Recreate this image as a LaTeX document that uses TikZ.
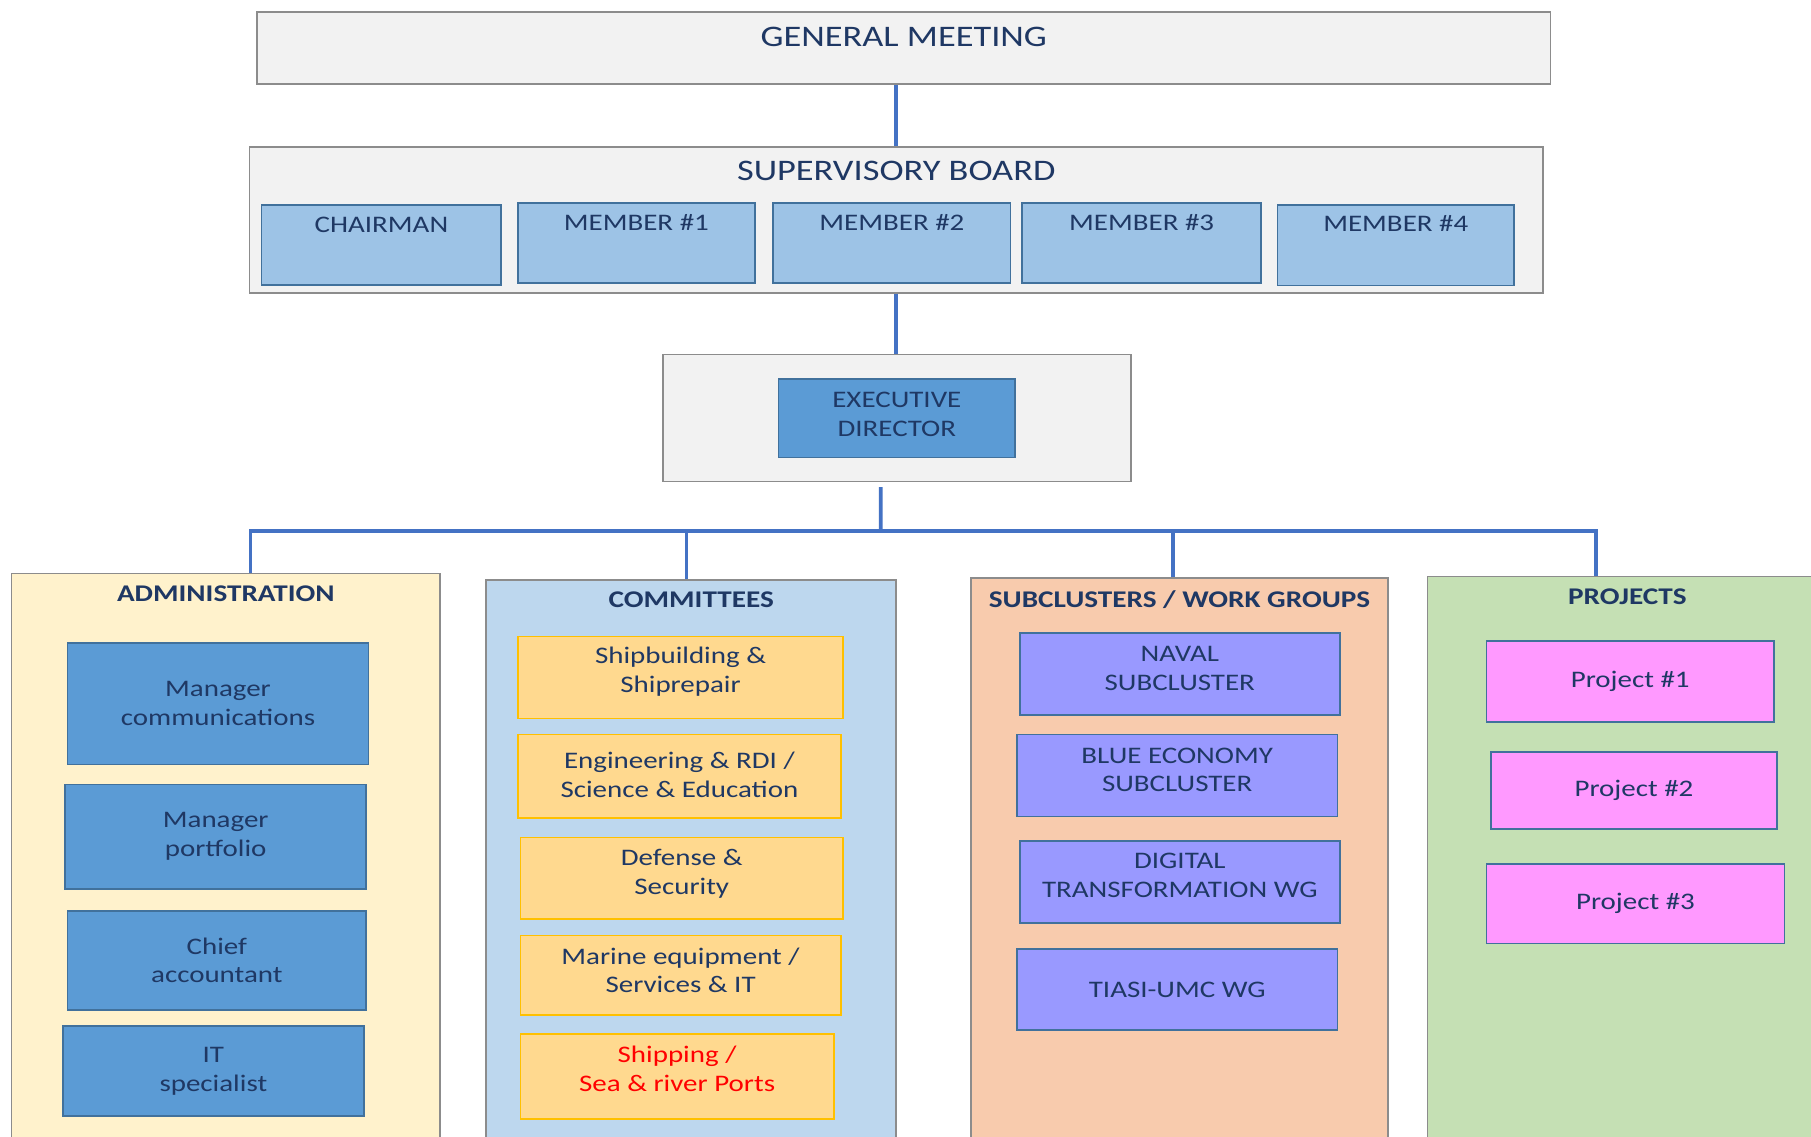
\documentclass[tikz,border=0pt]{standalone}
\usepackage{fontspec}
\setmainfont{Carlito}[FakeStretch=1.22]
\usetikzlibrary{positioning}
\definecolor{navy}{HTML}{1F3864}
\definecolor{linkblue}{HTML}{4472C4}
\definecolor{paper}{HTML}{F2F2F2}
\definecolor{frame}{HTML}{8C8C8C}
\definecolor{boardblue}{HTML}{9DC3E6}
\definecolor{deepblue}{HTML}{5B9BD5}
\definecolor{edgeblue}{HTML}{41719C}
\definecolor{admcol}{HTML}{FFF2CC}
\definecolor{comcol}{HTML}{BDD7EE}
\definecolor{subcol}{HTML}{F8CBAD}
\definecolor{prjcol}{HTML}{C5E0B4}
\definecolor{comfill}{HTML}{FFD98F}
\definecolor{gold}{HTML}{FFC000}
\definecolor{lilac}{HTML}{9999FF}
\definecolor{prjpink}{HTML}{FF99FF}
\definecolor{alert}{HTML}{FF0000}
\tikzset{
    panel/.style={draw=frame, line width=0.8pt, fill=paper, rectangle, inner sep=0pt},
    card/.style={draw=edgeblue, line width=0.8pt, rectangle, align=center, text=navy,
        inner sep=2pt, font=\fontsize{11.7}{14.2}\selectfont},
    lift/.style={text depth=#1},
    toptitle/.style={anchor=north, inner sep=0pt, text=navy},
    bigtitle/.style={toptitle, font=\fontsize{14.7}{17}\selectfont},
    seattitle/.style={toptitle, font=\fontsize{11.7}{14}\selectfont},
    coltitle/.style={toptitle, yshift=-.22cm, font=\fontsize{11.8}{14}\selectfont\bfseries},
    link/.style={draw=linkblue, line width=1.8pt},
}
\begin{document}
\begin{tikzpicture}[x=0.02cm, y=-0.02cm]
        \useasboundingbox (0,0) rectangle (1568,984);
        \fill[white] (0,0) rectangle (1568,984);
        \clip (0,0) rectangle (1568,984);
        % top of the chart
        \node[panel, minimum width=22.4cm, minimum height=1.25cm,
            label={[bigtitle, yshift=-.27cm]north:GENERAL MEETING}] (gm) at (782.5,41.75) {};
        \node[panel, minimum width=22.4cm, minimum height=2.53cm,
            label={[bigtitle, yshift=-.25cm]north:SUPERVISORY BOARD}] (sb) at (776,190.25) {};
        \node[card, fill=boardblue, minimum width=4.15cm, minimum height=1.38cm,
            label={[seattitle, yshift=-.22cm]north:CHAIRMAN}] (chair) at (330.25,212.1) {};
        \node[card, fill=boardblue, minimum width=4.1cm, minimum height=1.38cm,
            label={[seattitle, yshift=-.2cm]north:MEMBER \#1}] (mem1) at (551,210.5) {};
        \node[card, fill=boardblue, minimum width=4.11cm, minimum height=1.38cm,
            label={[seattitle, yshift=-.2cm]north:MEMBER \#2}] (mem2) at (772.25,210.5) {};
        \node[card, fill=boardblue, minimum width=4.14cm, minimum height=1.38cm,
            label={[seattitle, yshift=-.2cm]north:MEMBER \#3}] (mem3) at (988.5,210.5) {};
        \node[card, fill=boardblue, minimum width=4.1cm, minimum height=1.39cm,
            label={[seattitle, yshift=-.18cm]north:MEMBER \#4}] (mem4) at (1208.5,212.3) {};
        \node[panel, minimum width=8.1cm, minimum height=2.2cm] (exec) at (776.5,362) {};
        \node[card, fill=deepblue, lift=.12cm, minimum width=4.1cm, minimum height=1.36cm] (director) at (776.5,362) {EXECUTIVE\\DIRECTOR};
        % the four columns
        \node[panel, fill=admcol, minimum width=7.42cm, minimum height=10.07cm,
            label={[coltitle]north:ADMINISTRATION}] (adm) at (195.5,748.35) {};
        \node[panel, fill=comcol, minimum width=7.1cm, minimum height=9.96cm,
            label={[coltitle]north:COMMITTEES}] (com) at (598.5,751) {};
        \node[panel, fill=subcol, minimum width=7.23cm, minimum height=9.99cm,
            label={[coltitle]north:SUBCLUSTERS / WORK GROUPS}] (sub) at (1021.25,750.25) {};
        \node[panel, fill=prjcol, minimum width=6.92cm, minimum height=10.02cm,
            label={[coltitle]north:PROJECTS}] (prj) at (1409,749.5) {};
        % administration
        \node[card, fill=deepblue, minimum width=5.21cm, minimum height=2.1cm] (mgrcom) at (188.75,609.4) {Manager\\communications};
        \node[card, fill=deepblue, minimum width=5.21cm, minimum height=1.81cm] (mgrport) at (186.75,724.35) {Manager\\portfolio};
        \node[card, fill=deepblue, minimum width=5.17cm, minimum height=1.72cm] (chief) at (187.75,831.5) {Chief\\accountant};
        \node[card, fill=deepblue, minimum width=5.21cm, minimum height=1.55cm] (itspec) at (184.75,927.3) {IT\\specialist};
        % committees
        \node[card, draw=gold, fill=comfill, lift=.26cm, minimum width=5.63cm, minimum height=1.42cm] (ship) at (589.25,586.5) {Shipbuilding \&\\Shiprepair};
        \node[card, draw=gold, fill=comfill, lift=.06cm, minimum width=5.59cm, minimum height=1.45cm] (eng) at (588.25,672.25) {Engineering \& RDI /\\Science \& Education};
        \node[card, draw=gold, fill=comfill, lift=.22cm, minimum width=5.59cm, minimum height=1.41cm] (def) at (590.25,760.25) {Defense \&\\Security};
        \node[card, draw=gold, fill=comfill, lift=.18cm, minimum width=5.55cm, minimum height=1.38cm] (marine) at (589.25,844.5) {Marine equipment /\\Services \& IT};
        \node[card, draw=gold, fill=comfill, lift=.26cm, text=alert, minimum width=5.43cm, minimum height=1.48cm] (ports) at (586.25,932) {Shipping /\\Sea \& river Ports};
        % subclusters / work groups
        \node[card, fill=lilac, lift=.18cm, minimum width=5.54cm, minimum height=1.42cm] (naval) at (1021.5,583.5) {NAVAL\\SUBCLUSTER};
        \node[card, fill=lilac, lift=.2cm, minimum width=5.55cm, minimum height=1.42cm] (blue) at (1019.25,671.5) {BLUE ECONOMY\\SUBCLUSTER};
        \node[card, fill=lilac, lift=.22cm, minimum width=5.54cm, minimum height=1.42cm] (digital) at (1021.5,763.5) {DIGITAL\\TRANSFORMATION WG};
        \node[card, fill=lilac, minimum width=5.55cm, minimum height=1.41cm] (tiasi) at (1019.25,856.75) {TIASI-UMC WG};
        % projects
        \node[card, fill=prjpink, minimum width=4.98cm, minimum height=1.4cm] (prj1) at (1411.5,590) {Project \#1};
        \node[card, fill=prjpink, minimum width=4.95cm, minimum height=1.34cm] (prj2) at (1414.75,684.5) {Project \#2};
        \node[card, fill=prjpink, minimum width=5.16cm, minimum height=1.38cm] (prj3) at (1416,782.5) {Project \#3};
        % links
        \draw[link] (sb.north |- gm.south) -- (sb.north);
        \draw[link] (sb.south) -- (sb.south |- exec.north);
        \coordinate (split) at ([xshift=-.28cm, yshift=-.08cm]exec.south);
        \coordinate (hub) at (762.5,460);
        \coordinate (admtop) at ([xshift=.43cm]adm.north);
        \coordinate (comtop) at ([xshift=-.08cm]com.north);
        \coordinate (subtop) at ([xshift=-.11cm]sub.north);
        \coordinate (prjtop) at ([xshift=-.54cm]prj.north);
        \draw[link] (split) -- (hub);
        \draw[link] (admtop) |- (hub) -| (prjtop);
        \draw[link] (comtop) -- (comtop |- hub);
        \draw[link] (subtop) -- (subtop |- hub);
    \end{tikzpicture}
\end{document}
